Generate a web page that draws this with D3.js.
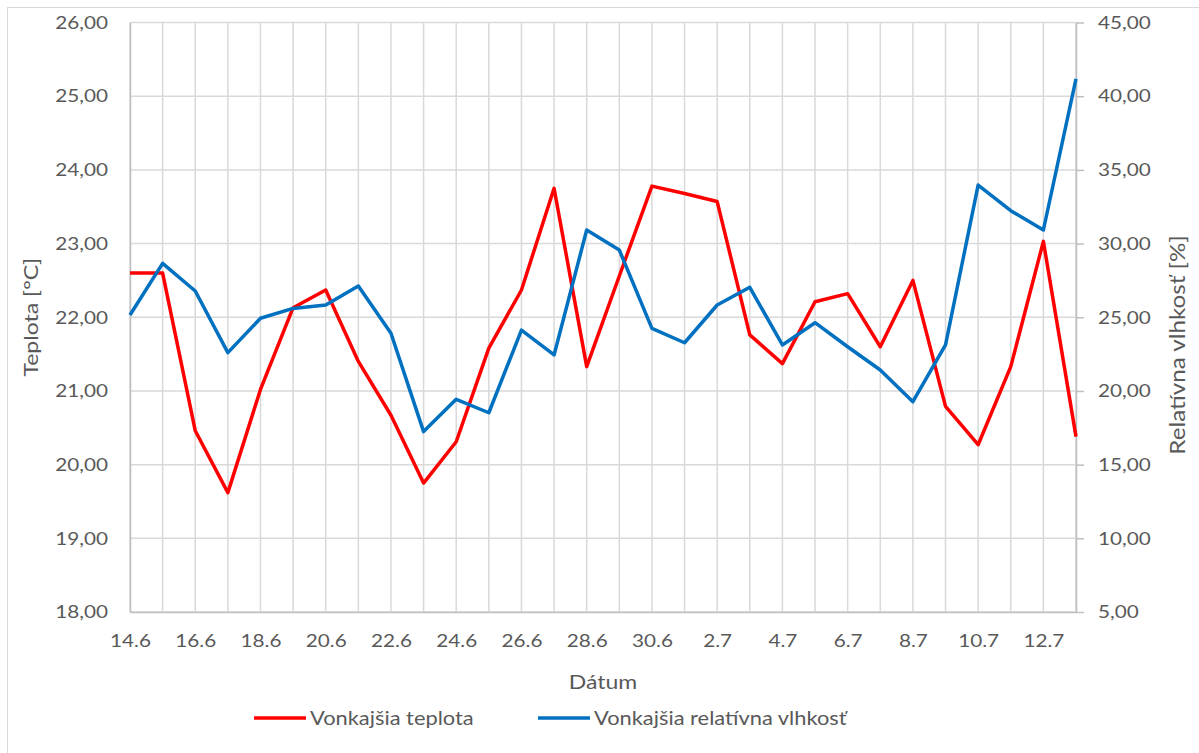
<!DOCTYPE html>
<html lang="sk">
  <head>
    <meta charset="UTF-8" />
    <title>Vonkajšia teplota a vlhkosť</title>
    <script src="https://cdn.jsdelivr.net/npm/d3@7"></script>
    <style>
      body {
        margin: 0;
        background: #fff;
      }
      text {
        font-family: Lato, "Open Sans", sans-serif;
        fill: #595959;
      }
    </style>
  </head>
  <body>
    <script>
      const dates = [
        "14.6", "15.6", "16.6", "17.6", "18.6", "19.6", "20.6", "21.6", "22.6", "23.6",
        "24.6", "25.6", "26.6", "27.6", "28.6", "29.6", "30.6", "1.7", "2.7", "3.7",
        "4.7", "5.7", "6.7", "7.7", "8.7", "9.7", "10.7", "11.7", "12.7", "13.7",
      ];
      const teplota = [
        22.6, 22.6, 20.46, 19.62, 21.02, 22.13, 22.37, 21.4, 20.67, 19.75,
        20.31, 21.58, 22.37, 23.75, 21.33, 22.56, 23.78, 23.68, 23.57, 21.76,
        21.37, 22.21, 22.32, 21.6, 22.5, 20.79, 20.27, 21.33, 23.03, 20.38,
      ];
      const vlhkost = [
        25.15, 28.66, 26.78, 22.6, 24.93, 25.6, 25.83, 27.12, 23.91, 17.24,
        19.43, 18.52, 24.13, 22.44, 30.92, 29.56, 24.25, 23.27, 25.83, 27.03,
        23.12, 24.63, 23.0, 21.42, 19.27, 23.12, 33.97, 32.23, 30.92, 41.17,
      ];
      const leftTicks = [18, 19, 20, 21, 22, 23, 24, 25, 26];
      const rightTicks = [5, 10, 15, 20, 25, 30, 35, 40, 45];

      const width = 1199;
      const height = 753;
      const margin = { top: 22.5, right: 123, bottom: 141, left: 130 };
      const fmt = (v) => v.toFixed(2).replace(".", ",");

      const svg = d3
        .select("body")
        .append("svg")
        .attr("width", width)
        .attr("height", height);

      // chart frame
      svg
        .append("rect")
        .attr("x", 7.5)
        .attr("y", 7.5)
        .attr("width", 1200)
        .attr("height", 760)
        .attr("fill", "none")
        .attr("stroke", "#d9d9d9");

      const x = d3
        .scalePoint()
        .domain(dates)
        .range([margin.left, width - margin.right]);
      const yL = d3
        .scaleLinear()
        .domain([18, 26])
        .range([height - margin.bottom, margin.top]);
      const yR = d3
        .scaleLinear()
        .domain([5, 45])
        .range([height - margin.bottom, margin.top]);

      const plotL = margin.left;
      const plotR = width - margin.right;
      const plotB = height - margin.bottom;

      // gridlines
      svg
        .append("g")
        .selectAll("line")
        .data(leftTicks)
        .join("line")
        .attr("x1", plotL)
        .attr("x2", plotR)
        .attr("y1", (d) => yL(d))
        .attr("y2", (d) => yL(d))
        .attr("stroke", "#d9d9d9")
        .attr("stroke-width", 1.5);
      svg
        .append("g")
        .selectAll("line")
        .data(dates)
        .join("line")
        .attr("x1", (d) => x(d))
        .attr("x2", (d) => x(d))
        .attr("y1", margin.top)
        .attr("y2", plotB)
        .attr("stroke", "#d9d9d9")
        .attr("stroke-width", 1.5);

      // left axis
      const axL = svg
        .append("g")
        .attr("transform", `translate(${plotL},0)`)
        .call(d3.axisLeft(yL).tickValues(leftTicks).tickFormat(fmt).tickSize(0).tickPadding(22));
      axL.select(".domain").attr("stroke", "#bfbfbf").attr("stroke-width", 1.5);
      axL.selectAll("text").style("font-size", "18px").attr("fill", "#595959");

      // right axis
      const axR = svg
        .append("g")
        .attr("transform", `translate(${plotR},0)`)
        .call(d3.axisRight(yR).tickValues(rightTicks).tickFormat(fmt).tickSizeOuter(0).tickSizeInner(8).tickPadding(14));
      axR.select(".domain").attr("stroke", "#bfbfbf").attr("stroke-width", 1.5);
      axR.selectAll(".tick line").attr("stroke", "#bfbfbf").attr("stroke-width", 1.5);
      axR.selectAll("text").style("font-size", "18px").attr("fill", "#595959");

      // bottom axis
      const axB = svg
        .append("g")
        .attr("transform", `translate(0,${plotB})`)
        .call(
          d3
            .axisBottom(x)
            .tickValues(dates.filter((d, i) => i % 2 === 0))
            .tickSize(0)
            .tickPadding(22)
        );
      axB.select(".domain").attr("stroke", "#bfbfbf").attr("stroke-width", 1.5);
      axB.selectAll("text").style("font-size", "18px").attr("fill", "#595959");

      // lines
      const lineL = d3
        .line()
        .x((d, i) => x(dates[i]))
        .y((d) => yL(d));
      const lineR = d3
        .line()
        .x((d, i) => x(dates[i]))
        .y((d) => yR(d));

      svg
        .append("path")
        .datum(teplota)
        .attr("d", lineL)
        .attr("fill", "none")
        .attr("stroke", "#ff0000")
        .attr("stroke-width", 3.5)
        .attr("stroke-linejoin", "round");
      svg
        .append("path")
        .datum(vlhkost)
        .attr("d", lineR)
        .attr("fill", "none")
        .attr("stroke", "#0070c0")
        .attr("stroke-width", 3.5)
        .attr("stroke-linejoin", "round");

      // axis titles
      svg
        .append("text")
        .attr("transform", `translate(38,${(margin.top + plotB) / 2}) rotate(-90)`)
        .attr("text-anchor", "middle")
        .style("font-size", "20px")
        .text("Teplota [°C]");
      svg
        .append("text")
        .attr("transform", `translate(1185,345) rotate(-90)`)
        .attr("text-anchor", "middle")
        .style("font-size", "21px")
        .text("Relatívna vlhkosť [%]");
      svg
        .append("text")
        .attr("x", (plotL + plotR) / 2)
        .attr("y", 689)
        .attr("text-anchor", "middle")
        .style("font-size", "20px")
        .text("Dátum");

      // legend
      const legend = [
        { name: "Vonkajšia teplota", color: "#ff0000", x: 254 },
        { name: "Vonkajšia relatívna vlhkosť", color: "#0070c0", x: 538 },
      ];
      const lg = svg
        .append("g")
        .selectAll("g")
        .data(legend)
        .join("g")
        .attr("transform", (d) => `translate(${d.x},718)`);
      lg.append("line")
        .attr("x1", 0)
        .attr("x2", 52)
        .attr("stroke", (d) => d.color)
        .attr("stroke-width", 3.5);
      lg.append("text")
        .attr("x", 56)
        .attr("dy", "0.35em")
        .style("font-size", "19px")
        .text((d) => d.name);

      // the source text is a bit wider than Lato, stretch it slightly
      svg.selectAll("text").each(function () {
        const w = this.getComputedTextLength();
        d3.select(this)
          .attr("textLength", w * 1.15)
          .attr("lengthAdjust", "spacingAndGlyphs");
      });
    </script>
  </body>
</html>
